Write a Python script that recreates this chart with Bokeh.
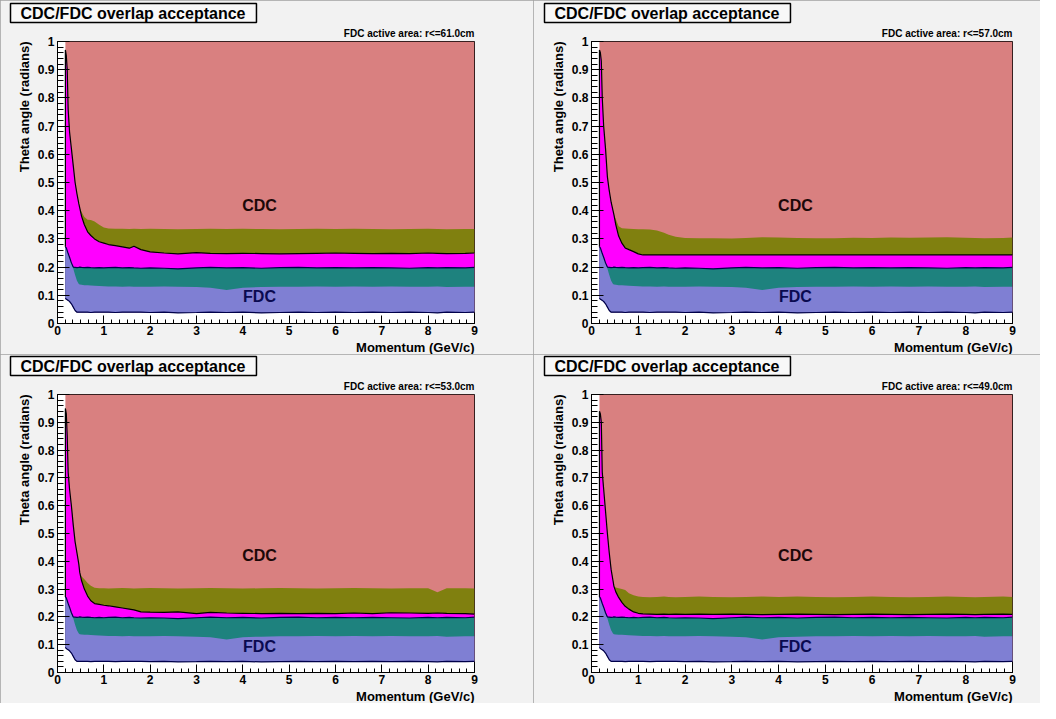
import numpy as np
from bokeh.plotting import figure
from bokeh.models import Range1d, FixedTicker, Title, Label
from bokeh.layouts import gridplot
from bokeh.embed import file_html
from bokeh.resources import INLINE

# ---------------- data ----------------
momentum = [0.17, 0.19, 0.21, 0.23, 0.26, 0.30, 0.34, 0.38, 0.42, 0.46,
            0.48, 0.52, 0.58, 0.65, 0.72, 0.80, 0.90, 1.00, 1.10, 1.25,
            1.40, 1.55, 1.65, 1.80, 2.00, 2.30, 2.60, 3.00, 3.30, 3.65,
            4.00, 4.40, 4.80, 5.20, 5.60, 6.00, 6.40, 6.80, 7.20, 7.60,
            8.00, 8.20, 8.40, 8.80, 9.00]

# FDC bands (identical in every panel)
fdc_lo = [0.090, 0.086, 0.084, 0.082, 0.078, 0.070, 0.058, 0.046, 0.040, 0.040,
          0.040, 0.040, 0.040, 0.040, 0.039, 0.040, 0.040, 0.040, 0.040, 0.039,
          0.040, 0.040, 0.040, 0.040, 0.039, 0.040, 0.038, 0.039, 0.040, 0.039,
          0.040, 0.038, 0.039, 0.040, 0.039, 0.040, 0.039, 0.040, 0.039, 0.040,
          0.039, 0.038, 0.040, 0.039, 0.040]
fdc_mid = [0.272, 0.268, 0.258, 0.248, 0.235, 0.215, 0.195, 0.172, 0.152, 0.140,
           0.138, 0.137, 0.136, 0.136, 0.135, 0.134, 0.133, 0.132, 0.131, 0.131,
           0.130, 0.131, 0.130, 0.130, 0.130, 0.131, 0.130, 0.129, 0.127, 0.119,
           0.127, 0.129, 0.130, 0.130, 0.131, 0.130, 0.131, 0.130, 0.131, 0.130,
           0.130, 0.131, 0.129, 0.130, 0.130]
fdc_hi = [0.272, 0.268, 0.258, 0.248, 0.235, 0.215, 0.200, 0.199, 0.198, 0.199,
          0.200, 0.199, 0.198, 0.199, 0.198, 0.197, 0.198, 0.197, 0.198, 0.199,
          0.197, 0.198, 0.197, 0.196, 0.197, 0.196, 0.194, 0.197, 0.199, 0.197,
          0.198, 0.196, 0.198, 0.199, 0.197, 0.198, 0.197, 0.198, 0.197, 0.196,
          0.198, 0.197, 0.198, 0.197, 0.199]

# overlap (magenta) upper edge and olive upper edge per FDC radius
mag_hi_61 = [0.970, 0.950, 0.900, 0.760, 0.680, 0.620, 0.560, 0.500, 0.460, 0.425,
             0.410, 0.380, 0.350, 0.325, 0.312, 0.300, 0.290, 0.285, 0.280, 0.276,
             0.272, 0.267, 0.274, 0.262, 0.254, 0.250, 0.247, 0.251, 0.249, 0.248,
             0.249, 0.248, 0.247, 0.248, 0.249, 0.250, 0.249, 0.248, 0.249, 0.248,
             0.250, 0.249, 0.248, 0.249, 0.250]
olv_hi_61 = [0.970, 0.950, 0.900, 0.760, 0.680, 0.620, 0.560, 0.500, 0.460, 0.425,
             0.410, 0.395, 0.378, 0.368, 0.367, 0.362, 0.350, 0.340, 0.337, 0.336,
             0.336, 0.335, 0.336, 0.335, 0.336, 0.335, 0.334, 0.335, 0.336, 0.335,
             0.336, 0.335, 0.334, 0.335, 0.336, 0.335, 0.336, 0.335, 0.334, 0.335,
             0.336, 0.335, 0.334, 0.335, 0.335]

mag_hi_57 = [0.970, 0.960, 0.930, 0.800, 0.700, 0.620, 0.520, 0.470, 0.430, 0.400,
             0.385, 0.350, 0.310, 0.285, 0.268, 0.262, 0.255, 0.247, 0.243, 0.243,
             0.243, 0.243, 0.243, 0.243, 0.243, 0.243, 0.243, 0.243, 0.243, 0.243,
             0.243, 0.243, 0.243, 0.243, 0.243, 0.243, 0.243, 0.243, 0.243, 0.243,
             0.243, 0.243, 0.243, 0.243, 0.243]
olv_hi_57 = [0.970, 0.960, 0.930, 0.800, 0.700, 0.620, 0.520, 0.470, 0.430, 0.400,
             0.386, 0.370, 0.345, 0.338, 0.337, 0.336, 0.335, 0.334, 0.334, 0.333,
             0.330, 0.322, 0.315, 0.308, 0.303, 0.302, 0.302, 0.301, 0.303, 0.306,
             0.305, 0.303, 0.302, 0.302, 0.304, 0.303, 0.305, 0.304, 0.305, 0.306,
             0.304, 0.303, 0.302, 0.303, 0.305]

mag_hi_53 = [0.950, 0.930, 0.850, 0.720, 0.660, 0.600, 0.530, 0.470, 0.430, 0.390,
             0.360, 0.330, 0.300, 0.275, 0.258, 0.248, 0.245, 0.242, 0.240, 0.236,
             0.232, 0.228, 0.225, 0.218, 0.217, 0.216, 0.218, 0.212, 0.216, 0.214,
             0.213, 0.212, 0.213, 0.212, 0.213, 0.212, 0.214, 0.212, 0.215, 0.214,
             0.213, 0.214, 0.213, 0.212, 0.210]
olv_hi_53 = [0.950, 0.930, 0.850, 0.720, 0.660, 0.600, 0.530, 0.470, 0.430, 0.390,
             0.360, 0.345, 0.335, 0.322, 0.312, 0.305, 0.303, 0.303, 0.302, 0.303,
             0.304, 0.303, 0.302, 0.303, 0.304, 0.303, 0.302, 0.303, 0.304, 0.303,
             0.302, 0.303, 0.304, 0.303, 0.302, 0.303, 0.304, 0.303, 0.302, 0.303,
             0.303, 0.289, 0.303, 0.303, 0.302]

mag_hi_49 = [0.940, 0.930, 0.900, 0.720, 0.660, 0.580, 0.500, 0.430, 0.370, 0.330,
             0.310, 0.290, 0.270, 0.252, 0.238, 0.228, 0.218, 0.213, 0.211, 0.210,
             0.209, 0.210, 0.209, 0.210, 0.209, 0.210, 0.209, 0.210, 0.209, 0.208,
             0.209, 0.210, 0.209, 0.208, 0.209, 0.210, 0.209, 0.208, 0.209, 0.210,
             0.209, 0.208, 0.209, 0.210, 0.209]
olv_hi_49 = [0.940, 0.930, 0.900, 0.720, 0.660, 0.580, 0.500, 0.430, 0.370, 0.330,
             0.310, 0.306, 0.303, 0.300, 0.297, 0.285, 0.278, 0.273, 0.272, 0.271,
             0.272, 0.273, 0.272, 0.271, 0.272, 0.273, 0.272, 0.271, 0.272, 0.273,
             0.272, 0.273, 0.272, 0.271, 0.272, 0.273, 0.272, 0.271, 0.272, 0.273,
             0.272, 0.271, 0.272, 0.273, 0.272]

radii = ["61.0", "57.0", "53.0", "49.0"]
theta_max = 1.0

x_ticks = [0, 1, 2, 3, 4, 5, 6, 7, 8, 9]
x_tick_labels = ["0", "1", "2", "3", "4", "5", "6", "7", "8", "9"]
y_ticks = [0, 0.1, 0.2, 0.3, 0.4, 0.5, 0.6, 0.7, 0.8, 0.9, 1.0]
y_tick_labels = ["0", "0.1", "0.2", "0.3", "0.4", "0.5", "0.6", "0.7", "0.8", "0.9", "1"]

# ---------------- style ----------------
FONT = "Liberation Sans"
BG = "#f2f2f2"
CDC_COLOR = "#d98080"
OLIVE = "#80800f"
MAGENTA = "#ff00ff"
TEAL = "#1e827e"
BLUE = "#7f7fd3"
NAVY = "#00004a"


def make_panel(radius, mag_hi, olv_hi, width, height, mb_left, mb_right, mb_top, mb_bottom):
    p = figure(width=width, height=height,
               x_range=Range1d(0, 9), y_range=Range1d(0, 1),
               output_backend="svg", toolbar_location=None,
               min_border_left=mb_left, min_border_right=mb_right,
               min_border_top=mb_top, min_border_bottom=mb_bottom)
    p.background_fill_color = "white"
    p.border_fill_color = BG
    p.outline_line_color = "black"
    p.outline_line_width = 1
    p.xgrid.visible = False
    p.ygrid.visible = False
    p.styles = {"outline": "1px solid #a0a0a0", "outline-offset": "-1px"}

    top = [theta_max] * len(momentum)
    # painter's order: each band drawn from the bottom edge upward
    p.varea(x=momentum, y1=fdc_lo, y2=top, fill_color=CDC_COLOR)
    p.varea(x=momentum, y1=fdc_lo, y2=olv_hi, fill_color=OLIVE)
    p.varea(x=momentum, y1=fdc_lo, y2=mag_hi, fill_color=MAGENTA)
    p.varea(x=momentum, y1=fdc_lo, y2=fdc_hi, fill_color=TEAL)
    p.varea(x=momentum, y1=fdc_lo, y2=fdc_mid, fill_color=BLUE)

    # contour lines
    p.line(x=[momentum[0]] + momentum, y=[fdc_hi[0]] + mag_hi, line_color="black", line_width=1.2)
    p.line(x=momentum, y=fdc_hi, line_color=NAVY, line_width=1.2)
    p.line(x=momentum, y=fdc_lo, line_color=NAVY, line_width=1.2)

    p.add_layout(Label(x=4.36, y=0.42, text="CDC", text_align="center", text_baseline="middle",
                       text_font=FONT, text_font_size="16px", text_font_style="bold",
                       text_color="#1c0808"))
    p.add_layout(Label(x=4.36, y=0.095, text="FDC", text_align="center", text_baseline="middle",
                       text_font=FONT, text_font_size="16px", text_font_style="bold",
                       text_color="#0a0a50"))

    # axes
    xa = p.xaxis[0]
    xa.ticker = FixedTicker(ticks=x_ticks, minor_ticks=list(np.arange(0, 9.0001, 1 / 6)))
    xa.major_label_overrides = dict(zip(x_ticks, x_tick_labels))
    ya = p.yaxis[0]
    ya.ticker = FixedTicker(ticks=y_ticks, minor_ticks=[round(i * 0.02, 2) for i in range(51)])
    ya.major_label_overrides = dict(zip(y_ticks, y_tick_labels))
    for ax, tin, mtin in ((xa, 8, 4), (ya, 12, 6)):
        ax.major_tick_in = tin
        ax.major_tick_out = 0
        ax.minor_tick_in = mtin
        ax.minor_tick_out = 0
        ax.axis_line_color = "black"
        ax.major_tick_line_color = "black"
        ax.minor_tick_line_color = "black"
        ax.major_label_text_font = FONT
        ax.major_label_text_font_size = "12px"
        ax.major_label_text_font_style = "bold"
        ax.major_label_text_color = "black"
    xa.major_label_standoff = 2
    ya.major_label_standoff = 3

    # axis titles (right / top aligned like ROOT)
    p.add_layout(Title(text="Theta angle (radians)", align="right", standoff=5,
                       text_font=FONT, text_font_size="13px", text_font_style="bold",
                       text_color="black"), "left")
    p.add_layout(Title(text="Momentum (GeV/c)", align="right", standoff=0,
                       text_font=FONT, text_font_size="13px", text_font_style="bold",
                       text_color="black"), "below")

    # sub title (nearest frame) then the boxed header (outermost)
    p.add_layout(Title(text=f"FDC active area: r<={radius}cm", align="right", standoff=6,
                       text_font=FONT, text_font_size="10px", text_font_style="bold",
                       text_color="black"), "above")
    p.title.text = "CDC/FDC overlap acceptance"
    p.title.align = "left"
    p.title.offset = -47
    p.title.standoff = 0
    p.title.text_font = FONT
    p.title.text_font_size = "16px"
    p.title.text_font_style = "bold"
    p.title.text_color = "black"
    p.title.background_fill_color = "#f8f8f8"
    p.title.border_line_color = "black"
    p.title.border_line_width = 1.5
    p.title.padding = dict(left=10, right=11, top=1, bottom=1)
    return p


p1 = make_panel(radii[0], mag_hi_61, olv_hi_61, 533, 354, 57, 59, 41, 31)
p2 = make_panel(radii[1], mag_hi_57, olv_hi_57, 507, 354, 58, 28, 41, 31)
p3 = make_panel(radii[2], mag_hi_53, olv_hi_53, 533, 349, 57, 59, 40, 31)
p4 = make_panel(radii[3], mag_hi_49, olv_hi_49, 507, 349, 58, 28, 40, 31)

grid = gridplot([[p1, p2], [p3, p4]], toolbar_location=None)

open("out.html", "w").write(file_html(grid, INLINE))
